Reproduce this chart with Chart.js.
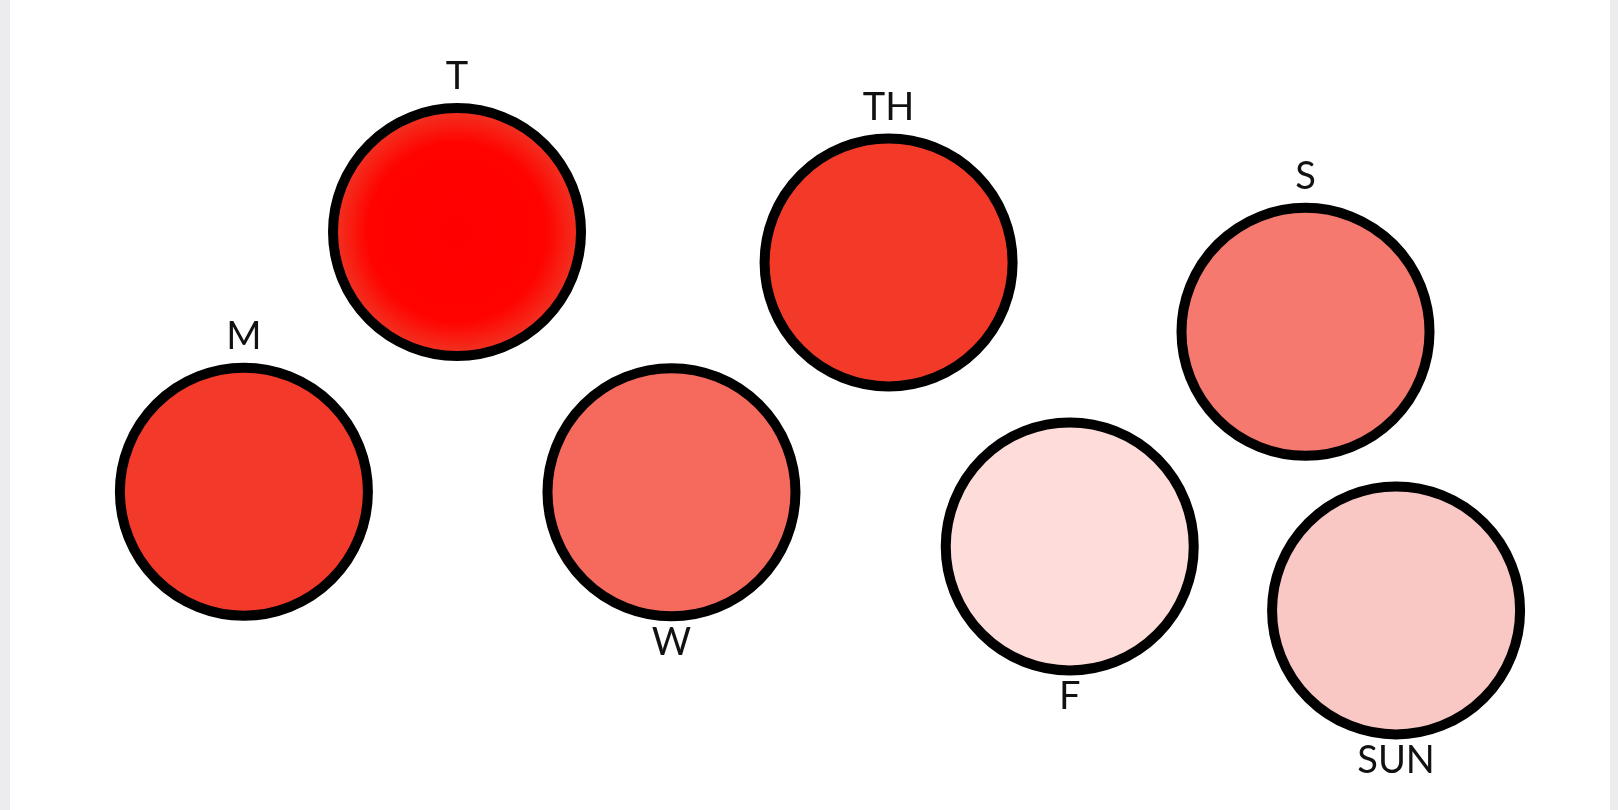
<!DOCTYPE html>
<html>
<head>
<meta charset="utf-8">
<script src="https://cdn.jsdelivr.net/npm/chart.js@4"></script>
<style>
  html, body { margin: 0; padding: 0; background: #ececef; }
  #wrap { position: absolute; left: 10px; top: 0; width: 1600px; height: 810px; background: #fff; }
</style>
</head>
<body>
<div id="wrap"><canvas id="bubbles"></canvas></div>
<script>
// one bubble per weekday
var days = ["M", "T", "W", "TH", "F", "S", "SUN"];
var xValues = [0.75, 2.35, 3.96, 5.59, 6.95, 8.72, 9.40];
var yValues = [3.40, 8.19, 3.39, 7.63, 2.39, 6.35, 1.21];
var sizes = [124, 124, 124, 124, 124, 124, 124];

var colors = ["#f33a2a", "#ff0000", "#f66a5e", "#f33a29", "#fddcda", "#f6796f", "#fac8c4"];
var labelBelow = [false, false, true, false, true, false, true];

var points = days.map(function (d, i) {
  return { x: xValues[i], y: yValues[i], r: sizes[i] };
});

// day names drawn next to each bubble
var dayLabels = {
  id: "dayLabels",
  afterDatasetsDraw: function (chart) {
    var c = chart.ctx;
    var meta = chart.getDatasetMeta(0);
    c.save();
    c.fillStyle = "#111";
    c.font = "38px Lato, 'DejaVu Sans', sans-serif";
    c.textAlign = "center";
    c.textBaseline = "middle";
    meta.data.forEach(function (el, i) {
      var r = el.options.radius + 5;
      var y = labelBelow[i] ? el.y + r + 21 : el.y - r - 26;
      c.fillText(days[i], el.x, y);
    });
    c.restore();
  }
};

var ctx = document.getElementById("bubbles").getContext("2d");
var chart = new Chart(ctx, {
  type: "bubble",
  data: {
    datasets: [
      {
        label: "days",
        data: points,
        backgroundColor: function (context) {
          var i = context.dataIndex;
          var sx = context.chart.scales.x;
          var sy = context.chart.scales.y;
          // T is painted with a softer rim in the original
          if (i === 1 && sx && sy) {
            var px = sx.getPixelForValue(xValues[i]);
            var py = sy.getPixelForValue(yValues[i]);
            if (isFinite(px) && isFinite(py)) {
              var g = context.chart.ctx.createRadialGradient(px, py, 0, px, py, sizes[i]);
              g.addColorStop(0, "#ff0000");
              g.addColorStop(0.72, "#ff0300");
              g.addColorStop(0.88, "#f72014");
              g.addColorStop(1, "#ee3527");
              return g;
            }
          }
          return colors[i];
        },
        borderColor: "#000",
        borderWidth: 10,
        hoverBorderWidth: 10,
        clip: false,
      },
    ],
  },
  options: {
    responsive: true,
    maintainAspectRatio: false,
    animation: false,
    layout: { padding: 0 },
    scales: {
      x: { type: "linear", min: 0, max: 10, display: false },
      y: { type: "linear", min: 0, max: 10, display: false },
    },
    plugins: {
      legend: { display: false },
      tooltip: { enabled: false },
    },
  },
  plugins: [dayLabels],
});
</script>
</body>
</html>
